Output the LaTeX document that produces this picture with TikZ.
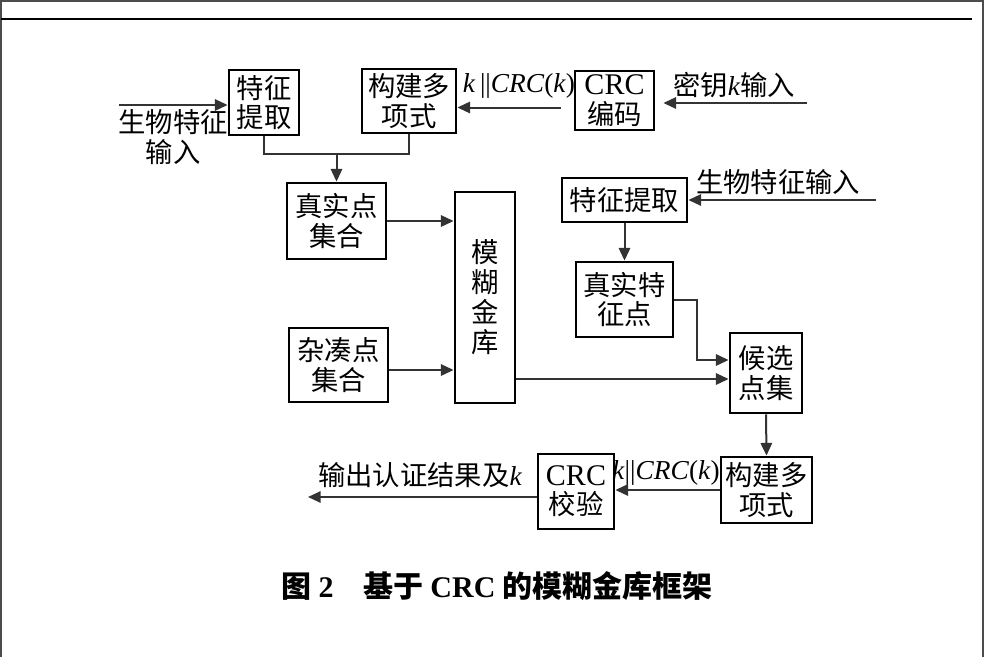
\documentclass[tikz,border=0pt]{standalone}
\usepackage{fontspec}
\setmainfont{Liberation Serif}
\newfontfamily\cjk{Noto Sans CJK SC}
\usetikzlibrary{arrows.meta,calc}

\tikzset{every picture/.style={line width=0.75pt}}
\tikzset{
  blk/.style={draw, line width=2.1pt, align=center, inner sep=0pt, font=\cjk\fontsize{20.5}{22}\selectfont},
  boxsize/.style 2 args={minimum width=#1*0.75pt, minimum height=#2*0.75pt},
  flow/.style={draw=black!80, line width=1.5pt, -{Triangle[length=9.5pt,width=8.5pt]}},
  link/.style={draw=black!80, line width=1.5pt},
  txt/.style={inner sep=0pt, align=center, font=\cjk\fontsize{20.5}{22}\selectfont},
}
\newcommand{\crcword}{{\rmfamily\fontsize{22.5}{22}\selectfont CRC}}

\begin{document}
\begin{tikzpicture}[x=0.75pt,y=0.75pt,yscale=-1,xscale=1]
\useasboundingbox (0,0) rectangle (986,657);

%Frame and header rule
\draw [black!70, line width=1.5pt] (1,657) -- (1,1) -- (983,1) -- (983,657) ;
\draw [line width=1.2pt] (1,19) -- (972,19) ;

%Boxes, enrolment side
\node [blk, boxsize={70}{65}] (fe1) at (264,102.5) {特征\\提取};
\node [blk, boxsize={94}{64}] (poly1) at (409,101) {构建多\\项式};
\node [blk, boxsize={79}{59}] (crc1) at (614.5,100.5) {\crcword\\编码};
\node [blk, boxsize={99}{76}] (real) at (336.5,221) {真实点\\集合};
\node [blk, boxsize={99}{74}] (chaff) at (338.5,365) {杂凑点\\集合};
\node [blk, boxsize={60}{211}, font=\cjk\fontsize{20.5}{22.5}\selectfont] (vault) at (485,297.5) {模\\糊\\金\\库};

%Boxes, decoding side
\node [blk, boxsize={125}{44}] (fe2) at (624.5,200) {特征提取};
\node [blk, boxsize={97}{75}] (rfp) at (624.5,299.5) {真实特\\征点};
\node [blk, boxsize={72}{80}] (cand) at (766,373) {候选\\点集};
\node [blk, boxsize={91}{66}] (poly2) at (766.5,490) {构建多\\项式};
\node [blk, boxsize={76}{75}] (crc2) at (576,491.5) {\crcword\\校验};

% Text Node
\node [txt] (bio1) at (173,137) {生物特征\\输入};
% Text Node
\node [txt] (klab1) at (519,86) {\rmfamily\textit{k}\,||\textit{CRC}(\textit{k})};
% Text Node
\node [txt] (keyin) at (734,85) {密钥{\rmfamily\itshape k}输入};
% Text Node
\node [txt] (bio2) at (778,182) {生物特征输入};
% Text Node
\node [txt] (klab2) at (666,473) {\rmfamily\textit{k}||\textit{CRC}(\textit{k})};
% Text Node
\node [txt] (outlab) at (420,475) {输出认证结果及{\rmfamily\itshape k}};
% Caption
\node [inner sep=0pt, font=\cjk\bfseries\fontsize{22.5}{24}\selectfont] (cap) at (497,586) {图 {\rmfamily 2}\quad 基于 {\rmfamily CRC} 的模糊金库框架};

%Free ends
\coordinate (bioin) at (119,105);
\coordinate (keysrc) at (807,103);
\coordinate (bio2src) at (876,200);
\coordinate (outend) at (308,497);
\coordinate (c3) at ($(cand.west)+(0,6)$);

%Connectors
\draw [flow] (bioin) -- (bioin -| fe1.west) ;
\draw [link] (fe1.south) -- ++(0,18) coordinate (j1) -| (poly1.south) ;
\draw [flow] (real.north |- j1) -- (real.north) ;
\draw [flow] ($(crc1.west)+(-13,7)$) coordinate (c1) -- (c1 -| poly1.east) ;
\draw [flow, shorten >=6pt] (keysrc) -- (keysrc -| crc1.east) ;
\draw [flow] (bio2src) -- (bio2src -| fe2.east) ;
\draw [flow] (fe2.south) -- (rfp.north) ;
\draw [flow] (real.east) -- (real.east -| vault.west) ;
\draw [flow] ($(chaff.east)+(0,5)$) coordinate (c2) -- (c2 -| vault.west) ;
\draw [flow] (rfp.east) -- ++(23,0) |- ($(cand.west)+(0,-13)$) ;
\draw [flow] (c3 -| vault.east) -- (c3) ;
\draw [flow] (cand.south) -- (poly2.north) ;
\draw [flow] (poly2.west) -- (poly2.west -| crc2.east) ;
\draw [flow] ($(crc2.west)+(0,5.5)$) -- (outend) ;

\end{tikzpicture}
\end{document}
